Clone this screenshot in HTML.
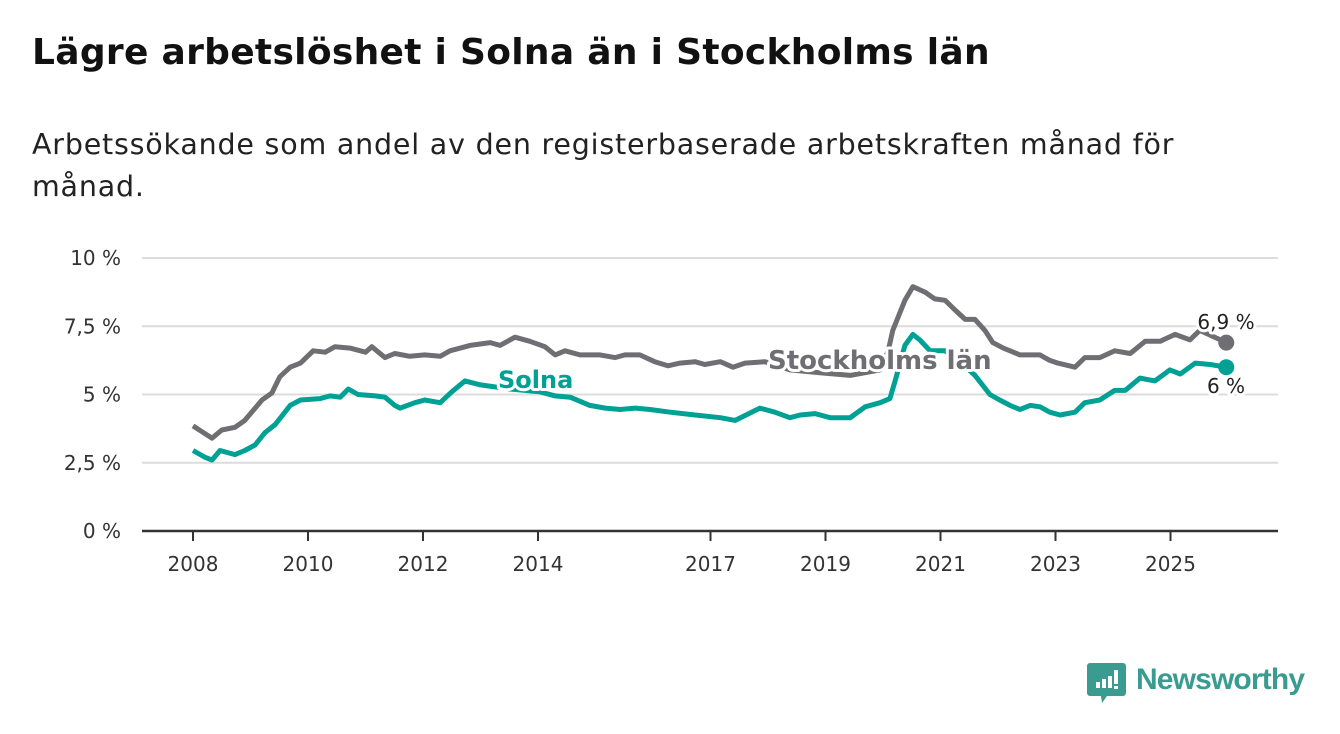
<!DOCTYPE html>
<html><head><meta charset="utf-8"><style>
body{margin:0;width:1340px;height:734px;background:#fff;overflow:hidden;font-family:"DejaVu Sans","Liberation Sans",sans-serif;color:#111;}
h1{position:absolute;left:32px;top:32px;margin:0;font-size:36px;font-weight:bold;letter-spacing:0.3px;white-space:nowrap;}
.sub{position:absolute;left:32px;top:124px;font-size:28.5px;letter-spacing:0.8px;line-height:42px;width:1260px;color:#222;white-space:nowrap;}
svg{position:absolute;left:0;top:0;}
</style></head><body>
<h1>Lägre arbetslöshet i Solna än i Stockholms län</h1>
<div class="sub">Arbetssökande som andel av den registerbaserade arbetskraften månad för<br>månad.</div>
<svg id="chart" width="1340" height="734"></svg>
<script>
const yTicks=[0,2.5,5,7.5,10];
const yTickLabels=["0 %","2,5 %","5 %","7,5 %","10 %"];
const xTicks=[2008,2010,2012,2014,2017,2019,2021,2023,2025];
const sthlmDates=[2008.00,2008.33,2008.50,2008.73,2008.90,2009.20,2009.37,2009.51,2009.69,2009.87,2010.09,2010.30,2010.47,2010.73,2011.00,2011.11,2011.34,2011.51,2011.77,2012.03,2012.30,2012.47,2012.82,2013.17,2013.34,2013.60,2013.86,2014.12,2014.30,2014.47,2014.73,2015.08,2015.34,2015.51,2015.77,2016.03,2016.26,2016.47,2016.73,2016.90,2017.17,2017.39,2017.60,2017.95,2018.38,2018.90,2019.43,2019.95,2020.09,2020.17,2020.38,2020.52,2020.73,2020.90,2021.08,2021.25,2021.43,2021.60,2021.77,2021.91,2022.09,2022.21,2022.38,2022.73,2022.90,2023.04,2023.34,2023.51,2023.77,2024.03,2024.30,2024.56,2024.82,2025.08,2025.34,2025.51,2025.97];
const sthlmValues=[3.85,3.4,3.7,3.8,4.05,4.8,5.05,5.65,6.0,6.15,6.6,6.55,6.75,6.7,6.55,6.75,6.35,6.5,6.4,6.45,6.4,6.6,6.8,6.9,6.8,7.1,6.95,6.75,6.45,6.6,6.45,6.45,6.35,6.45,6.45,6.2,6.05,6.15,6.2,6.1,6.2,6.0,6.15,6.2,5.9,5.8,5.7,5.9,6.6,7.35,8.45,8.95,8.75,8.5,8.45,8.1,7.75,7.75,7.35,6.9,6.7,6.6,6.45,6.45,6.25,6.15,6.0,6.35,6.35,6.6,6.5,6.95,6.95,7.2,7.0,7.35,6.9];
const solnaDates=[2008.00,2008.21,2008.33,2008.47,2008.73,2008.90,2009.08,2009.25,2009.43,2009.69,2009.87,2010.21,2010.38,2010.56,2010.70,2010.87,2011.17,2011.34,2011.51,2011.60,2011.86,2012.03,2012.30,2012.50,2012.73,2013.00,2013.51,2014.03,2014.30,2014.56,2014.90,2015.17,2015.43,2015.69,2015.95,2016.30,2016.73,2017.17,2017.43,2017.86,2018.12,2018.38,2018.56,2018.82,2019.08,2019.43,2019.69,2019.95,2020.12,2020.21,2020.38,2020.52,2020.64,2020.82,2021.08,2021.34,2021.60,2021.86,2022.03,2022.21,2022.38,2022.56,2022.73,2022.90,2023.08,2023.34,2023.51,2023.77,2024.03,2024.21,2024.47,2024.73,2024.99,2025.17,2025.43,2025.69,2025.97];
const solnaValues=[2.95,2.7,2.6,2.95,2.8,2.95,3.15,3.6,3.9,4.6,4.8,4.85,4.95,4.9,5.2,5.0,4.95,4.9,4.6,4.5,4.7,4.8,4.7,5.1,5.5,5.35,5.2,5.1,4.95,4.9,4.6,4.5,4.45,4.5,4.45,4.35,4.25,4.15,4.05,4.5,4.35,4.15,4.25,4.3,4.15,4.15,4.55,4.7,4.85,5.5,6.8,7.2,7.0,6.6,6.6,6.2,5.7,5.0,4.8,4.6,4.45,4.6,4.55,4.35,4.25,4.35,4.7,4.8,5.15,5.15,5.6,5.5,5.9,5.75,6.15,6.1,6.0];

const NS='http://www.w3.org/2000/svg';
const svg=document.getElementById('chart');
const X=yr=>193+(yr-2008)*57.5;
const Y=v=>531-v*27.3;
const FF='DejaVu Sans, Liberation Sans, sans-serif';
function mk(tag,attrs,txt){const e=document.createElementNS(NS,tag);for(const k in attrs)e.setAttribute(k,attrs[k]);if(txt!==undefined)e.textContent=txt;svg.appendChild(e);return e;}
yTicks.forEach((t,i)=>{
  if(t>0){const g=mk('line',{x1:142,x2:1278,y1:Y(t),y2:Y(t),stroke:'#dcdcdc','stroke-width':2});
  
  }
  const l=mk('text',{x:121,y:Y(t)+7,'text-anchor':'end','font-size':20,fill:'#333','font-family':FF},yTickLabels[i]);
  
  
});
const ax=mk('line',{x1:142,x2:1278,y1:531,y2:531,stroke:'#333','stroke-width':2.5});


xTicks.forEach(t=>{
  const tk=mk('line',{x1:X(t),x2:X(t),y1:531,y2:541,stroke:'#333','stroke-width':2});
  
  
  const l=mk('text',{x:X(t),y:571,'text-anchor':'middle','font-size':20,fill:'#333','font-family':FF},String(t));
  
  
});
function line(d,v,color,name){
  const p=d.map((yr,i)=>(i?'L':'M')+X(yr).toFixed(1)+','+Y(v[i]).toFixed(1)).join('');
  const e=mk('path',{d:p,fill:'none',stroke:color,'stroke-width':5,'stroke-linejoin':'round'});
  
  
  const n=d.length-1;
  const c=mk('circle',{cx:X(d[n]),cy:Y(v[n]),r:8,fill:color});
  
  
}
line(sthlmDates,sthlmValues,'#6f6e73','stockholm-line');
line(solnaDates,solnaValues,'#00a195','solna-line');
function lab(x,y,t,color,size,weight,name,anchor){
  const e=mk('text',{x:x,y:y,'font-size':size,'font-weight':weight,fill:color,stroke:'#fff','stroke-width':6,'paint-order':'stroke','stroke-linejoin':'round','text-anchor':anchor||'start','font-family':FF},t);
  
  
}
lab(768,369,'Stockholms län','#6f6e73',26,'bold','stockholm-label');
lab(498,388,'Solna','#00a195',24,'bold','solna-label');
lab(1226,329,'6,9 %','#222',20,'normal','stockholm-end-value','middle');
lab(1226,393,'6 %','#222',20,'normal','solna-end-value','middle');
const lg=mk('path',{d:'M1090,663 h33 a3,3 0 0 1 3,3 v27 a3,3 0 0 1 -3,3 h-16 l-5,7 l-1,-7 h-11 a3,3 0 0 1 -3,-3 v-27 a3,3 0 0 1 3,-3 z',fill:'#3a9c91'});


[[1096,682,6],[1102,679,9],[1108,676,12]].forEach(b=>{mk('rect',{x:b[0],y:b[1],width:4,height:b[2],fill:'#fff'});});
mk('rect',{x:1114,y:670,width:4,height:14,fill:'#fff'});
mk('rect',{x:1114,y:686,width:4,height:3,fill:'#fff'});
const lt=mk('text',{x:1136,y:689,'font-size':30,'font-weight':'bold',fill:'#3a9c91','font-family':'Liberation Sans, sans-serif',textLength:169},'Newsworthy');


</script>
</body></html>
